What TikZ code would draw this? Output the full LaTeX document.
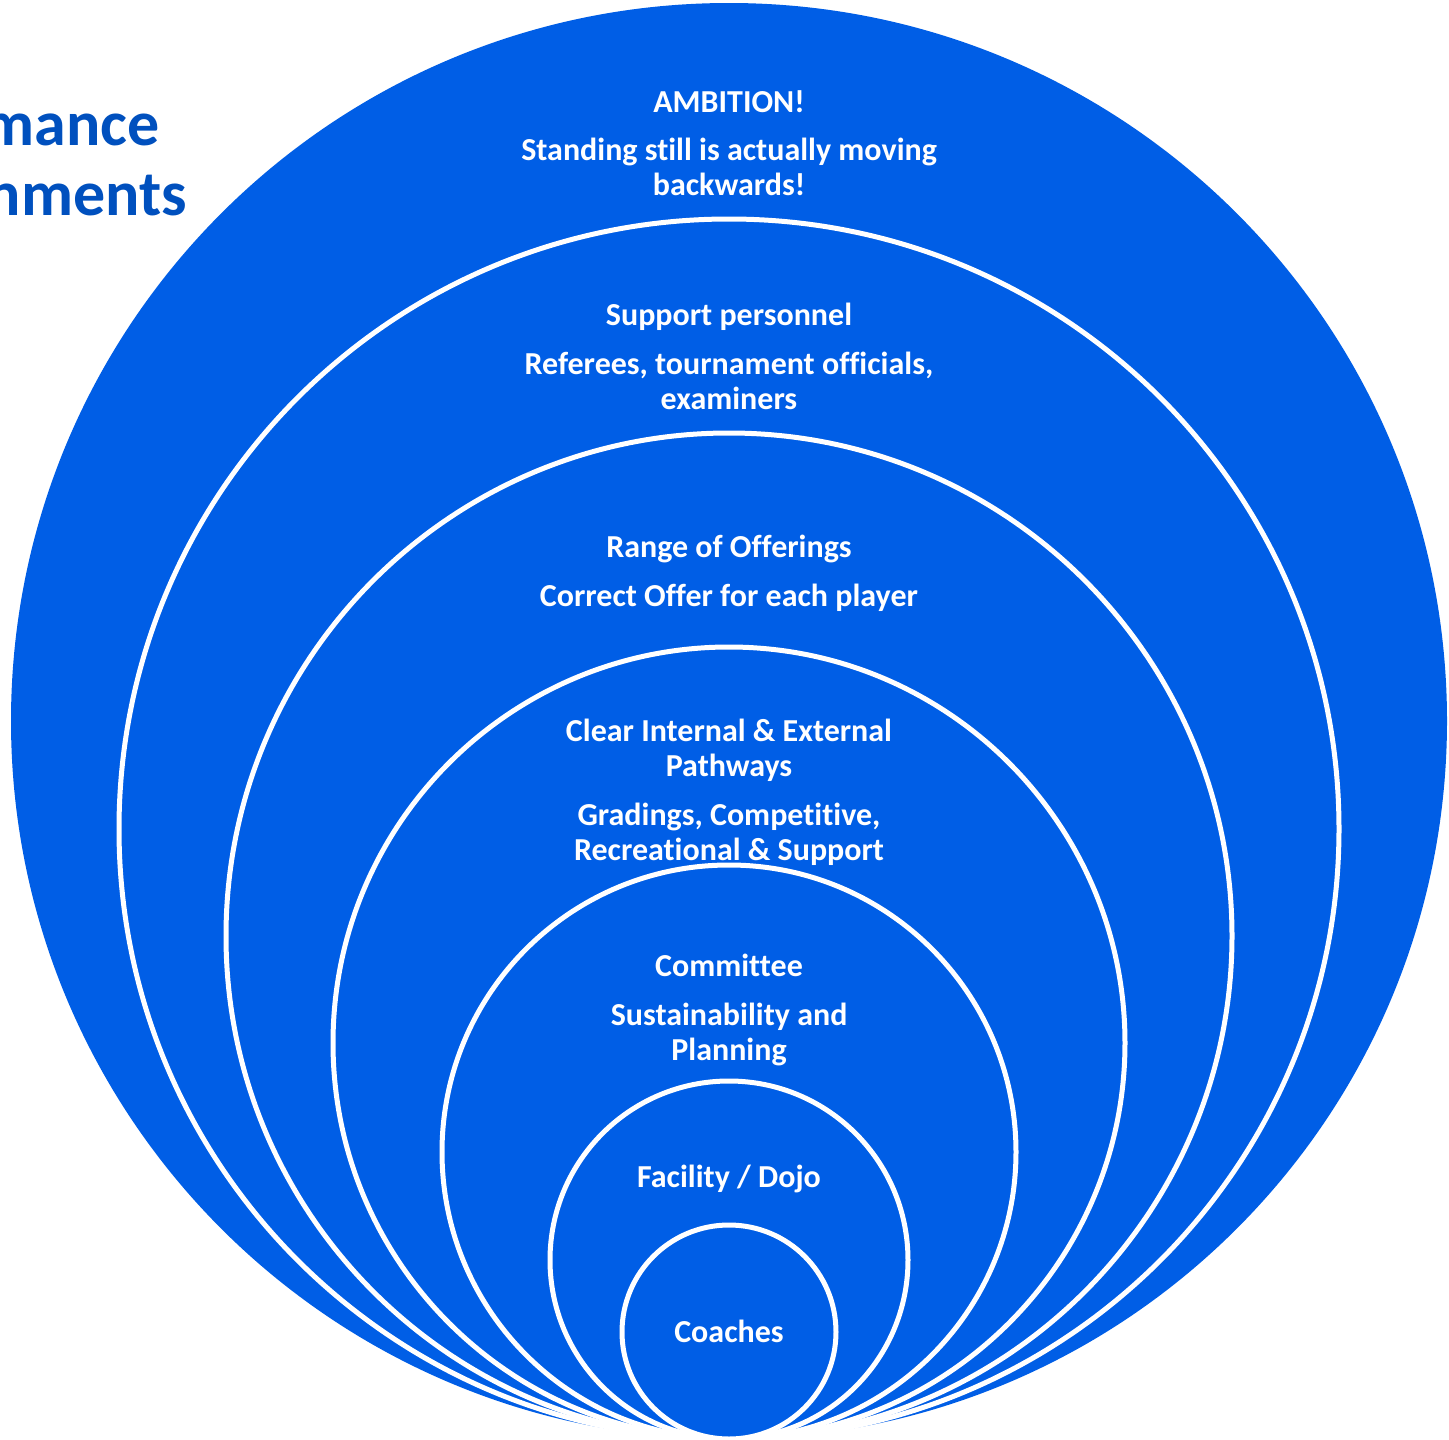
\documentclass[tikz,border=0pt]{standalone}
\usepackage{fontspec}
\setmainfont{Carlito}[Ligatures=NoCommon]
\usetikzlibrary{positioning}
\definecolor{ringblue}{RGB}{0,94,230}
\definecolor{titleblue}{RGB}{0,80,190}

\begin{document}
\begin{tikzpicture}[
x=1pt,y=-1pt,
ring/.style={circle,draw=white,line width=5pt,fill=ringblue,inner sep=0pt},
ringtext/.style={text=white,align=center,inner sep=0pt,anchor=base,
  font=\bfseries\fontsize{32}{34.5}\selectfont},
titletext/.style={text=titleblue,inner sep=0pt,anchor=base east,
  font=\bfseries\fontsize{64}{67}\selectfont},
]
\useasboundingbox (0,0) rectangle (1449,1440);

% title, cut by the left edge
\node[titletext] (tmance) at (160,145) {mance};
\node[titletext] (tnments) at (187,215) {nments};

% rings, all touching at the bottom
\node[ring,draw=none,minimum size=1436pt] (r1) at (729,721) {};
\node[ring,minimum size=1220pt] (r2) at (729,829) {};
\node[ring,minimum size=1006pt] (r3) at (729,936) {};
\node[ring,minimum size=792pt] (r4) at (729,1043) {};
\node[ring,minimum size=574pt] (r5) at (729,1152) {};
\node[ring,minimum size=358pt] (r6) at (729,1260) {};
\node[ring,minimum size=214pt] (r7) at (729,1332) {};

% texts (base = last line)
\node[ringtext] (ambition) at (729,112) {AMBITION!};
\node[ringtext] (ambitionb) at (729,195) {Standing still is actually moving\\backwards!};
\node[ringtext] (support) at (729,325) {Support personnel};
\node[ringtext] (supportb) at (729,409) {Referees, tournament officials,\\examiners};
\node[ringtext] (range) at (729,557) {Range of Offerings};
\node[ringtext] (rangeb) at (729,606) {Correct Offer for each player};
\node[ringtext] (paths) at (729,776) {Clear Internal \& External\\Pathways};
\node[ringtext] (pathsb) at (729,860) {Gradings, Competitive,\\Recreational \& Support};
\node[ringtext] (committee) at (729,976) {Committee};
\node[ringtext] (committeeb) at (729,1060) {Sustainability and\\Planning};
\node[ringtext] (facility) at (729,1187) {Facility / Dojo};
\node[ringtext] (coaches) at (729,1342) {Coaches};

\end{tikzpicture}
\end{document}
